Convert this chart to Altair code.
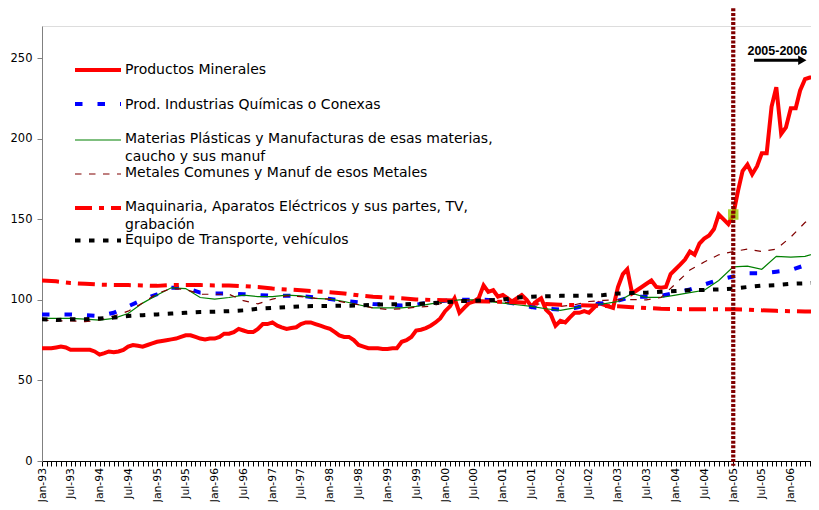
import altair as alt
import pandas as pd

# ---------------- data ----------------
nombres = [
    "Productos Minerales",
    "Prod. Industrias Químicas o Conexas",
    "Materias Plásticas y Manufacturas de esas materias, caucho y sus manuf",
    "Metales Comunes y Manuf de esos Metales",
    "Maquinaria, Aparatos Eléctricos y sus partes, TV, grabación",
    "Equipo de Transporte, vehículos",
]

# monthly, Jan-93 .. Jul-06
minerales = [
    70, 70, 70, 70.5, 71, 70.5, 69, 69, 69, 69, 69, 68,
    66, 67, 68, 67.5, 68, 69, 71, 72, 71.5, 71, 72, 73,
    74, 74.5, 75, 75.5, 76, 77, 78, 78, 77, 76, 75.5, 76,
    76, 77, 79, 79, 80, 82, 81, 80, 80, 82, 85, 85,
    86, 84, 83, 82, 82.5, 83, 85, 86, 86, 85, 84, 83,
    82, 80, 78, 77, 77, 75, 72, 71, 70, 70, 70, 69.5,
    69.5, 70, 70, 74, 75, 77, 81, 81.5, 82.5, 84, 86, 88.5,
    93, 96, 101, 92, 95, 98, 99, 101, 109, 105, 106, 102,
    103, 101, 99, 101, 103, 100, 96, 99, 101, 94, 91, 84,
    87, 86, 89, 92, 92, 93, 92, 95, 98, 97, 96, 95,
    108, 116, 119, 104, 106, 108, 110, 112, 108, 107.5, 108, 116,
    119, 122, 125, 130, 128, 135, 138, 140, 144, 153, 150, 147,
    153, 168, 180, 184, 178, 183, 191, 191, 220, 232, 203, 207,
    219, 219, 230, 237, 238, 238, 236,
]

# quarterly readings (Jan-93, Apr-93, ... Jul-06)
quimicas = [
    91, 91, 91, 90.5, 90, 92, 96, 100, 103.5, 107.5, 107.5, 104.5,
    104, 104, 103.5, 103, 102.5, 102.5, 102.5, 101.5, 100.5, 99.5, 98.5, 97.5,
    97, 96.5, 97, 98.5, 99.5, 100, 100.2, 100, 99, 97.5, 95.5, 94.5,
    94, 95, 97, 98, 99.5, 102, 102, 102.5, 104.5, 106.5, 109.5, 112.5,
    114.5, 116.5, 116.5, 117.5, 118.5, 121.5, 123.5,
]
plasticas = [
    88.5, 88.5, 88.5, 88, 87.5, 88.5, 91.5, 98, 103, 107.5, 107, 101.5,
    100.5, 101.5, 103, 102, 102, 103, 102.5, 101, 100.5, 99, 97, 95,
    95, 95, 96, 97.5, 99, 100, 100, 99, 98, 97, 96, 94.5,
    93.5, 95, 97, 97.5, 99, 104, 101.5, 101.5, 103, 104.5, 106, 112,
    120.5, 121, 119, 127, 126.5, 127, 129.5,
]
metales = [
    87.5, 87, 87, 86.5, 87.5, 90, 93, 98, 104, 107, 106.5, 103.5,
    103.5, 103.5, 99.5, 97.5, 100.5, 102.5, 102, 101, 100.5, 98.5, 97, 95,
    94, 94.5, 95.5, 96, 98.5, 100, 100, 99.5, 98.5, 98, 97.8, 97,
    96, 97, 99, 99.7, 100, 100.2, 100, 101.5, 110, 118.5, 123.5, 128,
    130, 131.5, 130, 131.5, 139, 148, 154,
]
maquinaria = [
    112, 111.5, 110.5, 110, 109.5, 109.3, 109.2, 109, 108.7, 109.2, 109.2, 109.2,
    109, 109, 108.5, 108, 107, 106.5, 106, 105.3, 104.8, 104, 102.8, 102,
    101.5, 101, 100.3, 100, 99.8, 99.4, 99.2, 99, 98.8, 98.5, 98, 97.5,
    97, 96.8, 96.5, 96.2, 96, 95.5, 95, 94.5, 94.3, 94.2, 94.2, 94.2,
    94.2, 94, 93.5, 93.2, 93, 92.8, 92.7,
]
transporte = [
    88, 87.5, 88, 88, 88.5, 89, 90, 90.5, 91, 91.5, 92, 92.5,
    92.7, 93, 93.5, 94.5, 95, 95.5, 96, 96.2, 96.3, 96.4, 96.5, 97,
    97.2, 97.3, 97.5, 98, 98.5, 99.2, 99.5, 99.8, 100.2, 101.5, 102, 102.2,
    102.5, 102.5, 102.7, 103, 104, 104.2, 104.5, 105, 105.5, 106, 106.2, 106.5,
    107, 108, 108.8, 109.2, 110, 110.3, 110.8,
]

fechas_mes = pd.date_range("1993-01-01", periods=len(minerales), freq="MS")
fechas_trim = fechas_mes[::3]

corte_fecha = pd.Timestamp("2005-01-01")
corte_valor = 153
flecha_texto = "2005-2006"
flecha_ini = pd.Timestamp("2005-05-13")
flecha_fin = pd.Timestamp("2006-03-15")
flecha_valor = 248.8
texto_fecha = pd.Timestamp("2005-04-01")
texto_valor = 252.3

# ---------------- styles ----------------
FONT = "DejaVu Sans"
estilos = [
    dict(color="#FF0000", strokeWidth=4),
    dict(color="#0000FF", strokeWidth=4, strokeDash=[7.5, 15]),
    dict(color="#008000", strokeWidth=1.2),
    dict(color="#800000", strokeWidth=1.2, strokeDash=[6.5, 7.5]),
    dict(color="#FF0000", strokeWidth=4, strokeDash=[17, 7, 5, 7]),
    dict(color="#000000", strokeWidth=4, strokeDash=[5.5, 8.5]),
]

x_scale = alt.Scale(domain=[alt.DateTime(year=1993, month=1, date=1),
                            alt.DateTime(year=2006, month=5, date=9)])
x_axis = alt.Axis(
    values=[alt.DateTime(year=y, month=m, date=1) for y in range(1993, 2007) for m in range(1, 13)],
    labelExpr="month(datum.value) % 6 == 0 ? timeFormat(datum.value, '%b-%y') : ''",
    labelAngle=-90, labelOverlap=False, labelFont=FONT, labelFontSize=10.8,
    labelColor="#000000", labelPadding=1.5, tickSize=5, tickColor="#000000",
    domainColor="#000000", grid=False, title=None,
)
y_axis = alt.Axis(
    values=[0, 50, 100, 150, 200, 250], labelFont=FONT, labelFontSize=11.5,
    labelColor="#000000", labelPadding=5, tickSize=5, tickColor="#808080",
    domainColor="#808080", grid=False, title=None,
)


def X(field="fecha"):
    return alt.X(f"{field}:T", scale=x_scale, axis=x_axis)


Y = alt.Y("valor:Q", scale=alt.Scale(domain=[0, 270], nice=False), axis=y_axis)

series = [
    (fechas_mes, minerales),
    (fechas_trim, quimicas),
    (fechas_trim, plasticas),
    (fechas_trim, metales),
    (fechas_trim, maquinaria),
    (fechas_trim, transporte),
]

capas = []
for (f, v), est in zip(series, estilos):
    df = pd.DataFrame({"fecha": f, "valor": v})
    capas.append(alt.Chart(df).mark_line(clip=True, **est).encode(x=X(), y=Y))

# marker at Jan-05 and the vertical dotted line
capas.append(
    alt.Chart(pd.DataFrame({"fecha": [corte_fecha], "valor": [corte_valor]}))
    .mark_square(size=110, color="#99CC00", opacity=0.8)
    .encode(x=X(), y=Y)
)
capas.append(
    alt.Chart(pd.DataFrame({"fecha": [corte_fecha]}))
    .mark_rule(color="#800000", strokeWidth=4.2, strokeDash=[3, 1.6])
    .encode(x=X(), y=alt.datum(281), y2=alt.datum(-3))
)

# arrow "2005-2006"
capas.append(
    alt.Chart(pd.DataFrame({"fecha": [flecha_ini], "fecha2": [flecha_fin]}))
    .mark_rule(color="#000000", strokeWidth=3)
    .encode(x=X(), x2="fecha2:T", y=alt.datum(flecha_valor))
)
capas.append(
    alt.Chart(pd.DataFrame({"fecha": [flecha_fin]}))
    .mark_point(shape="triangle-right", filled=True, size=90, color="#000000", opacity=1)
    .encode(x=X(), y=alt.datum(flecha_valor))
)
capas.append(
    alt.Chart(pd.DataFrame({"fecha": [texto_fecha]}))
    .mark_text(align="left", baseline="alphabetic", font="Liberation Sans",
               fontWeight="bold", fontSize=12.5, color="#000000")
    .encode(x=X(), y=alt.datum(texto_valor), text=alt.value(flecha_texto))
)

# in-plot legend (layout in pixels of the plot area)
leyenda_y = [44, 78, 114, 148, 182, 214.5]
leyenda_textos = [
    [("Productos Minerales", 44)],
    [("Prod. Industrias Químicas o Conexas", 79)],
    [("Materias Plásticas y Manufacturas de esas materias,", 112.5), ("caucho y sus manuf", 130.5)],
    [("Metales Comunes y Manuf de esos Metales", 146.5)],
    [("Maquinaria, Aparatos Eléctricos y sus partes, TV,", 180.5), ("grabación", 199)],
    [("Equipo de Transporte, vehículos", 214)],
]
dummy = pd.DataFrame({"k": [0]})
for est, ly, textos in zip(estilos, leyenda_y, leyenda_textos):
    capas.append(
        alt.Chart(dummy).mark_rule(**est)
        .encode(x=alt.value(33), x2=alt.value(79), y=alt.value(ly))
    )
    for t, ty in textos:
        capas.append(
            alt.Chart(dummy)
            .mark_text(align="left", baseline="middle", font=FONT, fontSize=14, color="#000000")
            .encode(x=alt.value(83), y=alt.value(ty), text=alt.value(t))
        )

chart = (
    alt.layer(*capas)
    .properties(
        width=769, height=435,
        autosize=alt.AutoSizeParams(type="none"),
        padding={"left": 34, "top": 18, "right": 0, "bottom": 41},
    )
    .configure_view(stroke=None)
    .configure(background="#FFFFFF")
)

chart.save("out.html", embed_options={"renderer": "svg", "actions": False})
